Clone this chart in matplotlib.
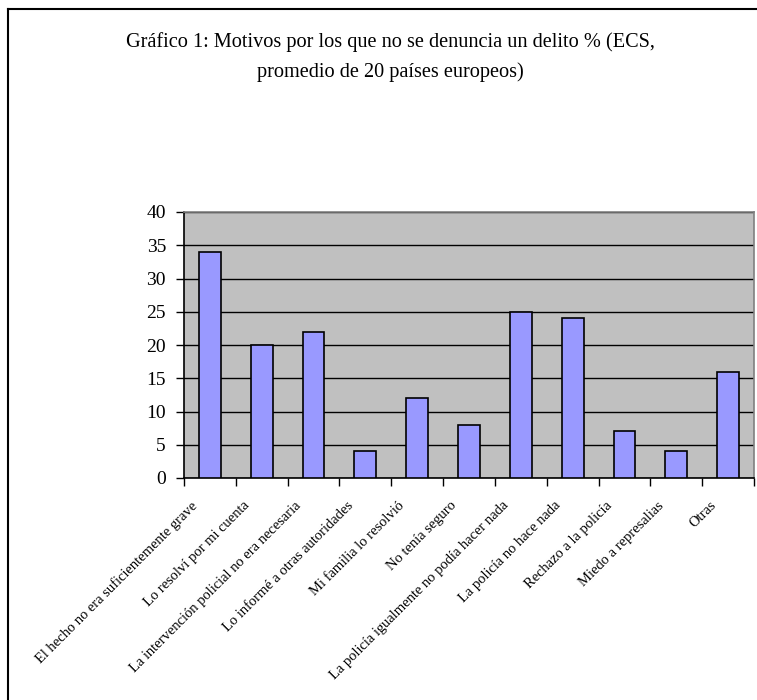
import numpy as np
import matplotlib
matplotlib.use('Agg')
import matplotlib.pyplot as plt
import matplotlib.transforms as mtransforms
from matplotlib.lines import Line2D

plt.rcParams['font.family'] = ['Liberation Serif', 'DejaVu Serif']

categorias = ['El hecho no era suficientemente grave',
              'Lo resolví por mi cuenta',
              'La intervención policial no era necesaria',
              'Lo informé a otras autoridades',
              'Mi familia lo resolvió',
              'No tenía seguro',
              'La policía igualmente no podía hacer nada',
              'La policía no hace nada',
              'Rechazo a la policía',
              'Miedo a represalias',
              'Otras']
valores = [34, 20, 22, 4, 12, 8, 25, 24, 7, 4, 16]
yticks = [0, 5, 10, 15, 20, 25, 30, 35, 40]

W, H = 757, 700
fig = plt.figure(figsize=(W / 100, H / 100), dpi=100)
ax = fig.add_axes([184 / W, 1 - 478 / H, (754 - 184) / W, (478 - 212) / H])

x = np.arange(len(categorias))
ax.bar(x, valores, width=0.42, color='#9999ff', edgecolor='black', linewidth=1.2, zorder=3)

ax.set_facecolor('#c0c0c0')
ax.set_xlim(-0.5, len(categorias) - 0.5)
ax.set_ylim(0, 40)
ax.set_yticks(yticks)
ax.tick_params(axis='y', direction='out', length=6, labelsize=14, width=1, pad=7)
ax.yaxis.grid(True, color='black', linewidth=1, zorder=1)
ax.set_axisbelow(True)

# ticks at category boundaries, labels at centres
ax.set_xticks(np.arange(len(categorias) + 1) - 0.5)
ax.set_xticklabels([])
ax.tick_params(axis='x', which='major', direction='out', length=6, width=1)
ax.set_xticks(x, minor=True)
ax.set_xticklabels(categorias, minor=True, rotation=45, ha='right',
                   rotation_mode='anchor', fontsize=10.5)
ax.tick_params(axis='x', which='minor', length=0, pad=8)
shift = mtransforms.ScaledTranslation(-0.19, -0.10, fig.dpi_scale_trans)
for lab in ax.get_xticklabels(minor=True):
    lab.set_transform(lab.get_transform() + shift)

for s in ['left', 'bottom']:
    ax.spines[s].set_color('black')
    ax.spines[s].set_linewidth(1.2)
for s in ['top', 'right']:
    ax.spines[s].set_color('#808080')
    ax.spines[s].set_linewidth(1.2)

fig.text(390 / W, 1 - 57 / H,
         'Gráfico 1: Motivos por los que no se denuncia un delito % (ECS,\npromedio de 20 países europeos)',
         ha='center', va='center', fontsize=14.6, linespacing=1.75)

# outer chart border (left and top visible)
fig.add_artist(Line2D([7.5 / W, 7.5 / W], [0, 1 - 9 / H], color='black', linewidth=1.5))
fig.add_artist(Line2D([7.5 / W, 1], [1 - 9 / H, 1 - 9 / H], color='black', linewidth=1.5))

fig.savefig('out.png', dpi=100)
